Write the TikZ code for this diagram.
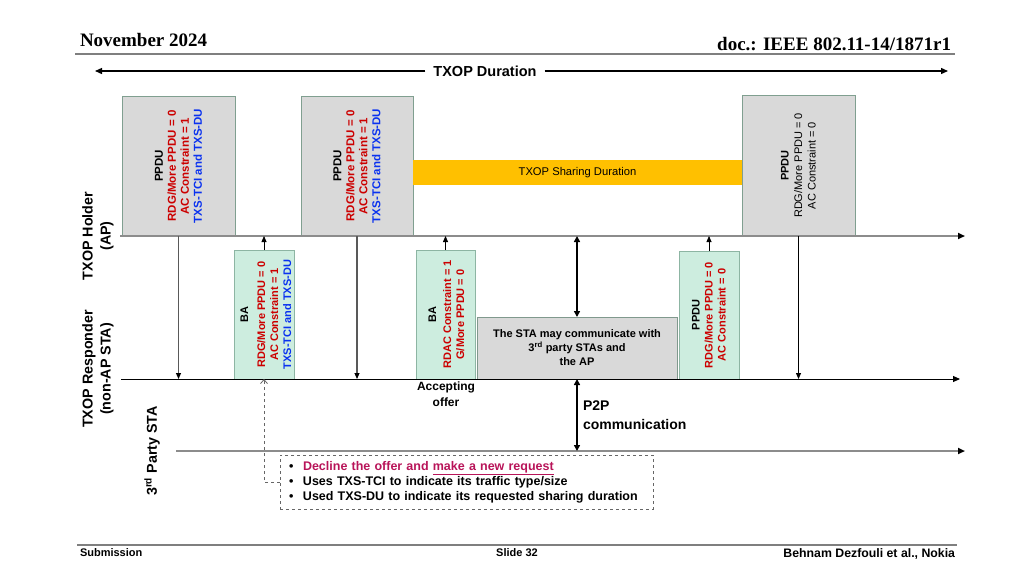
\documentclass[tikz,border=0pt]{standalone}
\usepackage{fontspec}
\setmainfont{Liberation Sans}
\newfontfamily\hdrserif{Liberation Serif}
\usetikzlibrary{arrows.meta}
\definecolor{boxgray}{HTML}{D9D9D9}
\definecolor{boxedge}{HTML}{809F90}
\definecolor{mint}{HTML}{CDEDDF}
\definecolor{mintedge}{HTML}{8DB5A3}
\definecolor{txred}{HTML}{CC0000}
\definecolor{txblue}{HTML}{0A32F0}
\definecolor{crimson}{HTML}{B81459}
\definecolor{gold}{HTML}{FFC000}
\definecolor{linegray}{HTML}{8C8C8C}
\definecolor{rulegray}{HTML}{7F7F7F}
\begin{document}
\begin{tikzpicture}[x=1pt,y=-1pt,
  every node/.style={inner sep=0pt, outer sep=0pt},
  graybox/.style={draw=boxedge, fill=boxgray, line width=0.8pt, anchor=north west},
  mintbox/.style={draw=mintedge, fill=mint, line width=0.8pt, anchor=north west},
  vtextA/.style={rotate=90, align=center, font=\fontsize{11.5}{13}\selectfont\bfseries},
  vtextB/.style={rotate=90, align=center, font=\fontsize{11}{13}\selectfont\bfseries},
  vtextC/.style={rotate=90, align=center, font=\fontsize{11}{13.5}\selectfont},
  lbl/.style={align=center, font=\fontsize{14.3}{18}\selectfont\bfseries},
  tipd/.style={-{Triangle[length=6pt,width=5pt,color=black]}},
  tline/.style={-{Triangle[length=7pt,width=6pt,color=black]}},
  dbl/.style={line width=1.6pt, {Triangle[length=6pt,width=6pt]}-{Triangle[length=6pt,width=6pt]}},
  rule/.style={draw=rulegray, line width=1.6pt},
  hdr/.style={font=\hdrserif\fontsize{19}{22}\selectfont\bfseries},
  ftr/.style={font=\fontsize{11}{13}\selectfont\bfseries}
]
\useasboundingbox (0,0) rectangle (1024,576);

% header
\node[hdr, anchor=base west] (hleft) at (80,46) {November 2024};
\node[hdr, anchor=base east] (hright) at (951,50) {doc.: IEEE 802.11-14/1871r1};
\coordinate (hdL) at (75,54);
\coordinate (hdR) at (955,54);
\draw[rule] (hdL) -- (hdR);

% TXOP duration
\node[font=\fontsize{14.5}{16}\selectfont\bfseries, inner xsep=8pt] (dur) at (485,71) {TXOP Duration};
\coordinate (durL) at (95,71);
\coordinate (durR) at (948,71);
\draw[line width=1.3pt, tline] (dur.west) -- (durL);
\draw[line width=1.3pt, tline] (dur.east) -- (durR);

% time lines
\coordinate (apL) at (120,236);
\coordinate (apR) at (965,236);
\coordinate (respL) at (121,379);
\coordinate (respR) at (960,379);
\coordinate (tpL) at (176,451);
\coordinate (tpR) at (965,451);

% AP boxes
\node[graybox, minimum width=113pt, minimum height=140pt] (p1) at (122,96) {};
\node[graybox, minimum width=112pt, minimum height=140pt] (p2) at (301,96) {};
\node[graybox, minimum width=113pt, minimum height=141pt] (p3) at (742,95) {};
\node[fill=gold, anchor=north west, minimum width=329pt, minimum height=25pt] (share) at (413,160) {};
\node[font=\fontsize{11.2}{13}\selectfont] (sharet) at (share.center) {TXOP Sharing Duration};

\node[vtextA] (p1t) at (p1.center) {PPDU\\\textcolor{txred}{RDG/More PPDU = 0}\\\textcolor{txred}{AC Constraint = 1}\\\textcolor{txblue}{TXS-TCI and TXS-DU}};
\node[vtextA] (p2t) at (p2.center) {PPDU\\\textcolor{txred}{RDG/More PPDU = 0}\\\textcolor{txred}{AC Constraint = 1}\\\textcolor{txblue}{TXS-TCI and TXS-DU}};
\node[vtextC] (p3t) at (p3.center) {\textbf{PPDU}\\RDG/More PPDU = 0\\AC Constraint = 0};

% responder boxes
\node[mintbox, minimum width=60pt, minimum height=129pt] (ba1) at (234,250) {};
\node[mintbox, minimum width=59pt, minimum height=129pt] (ba2) at (416,250) {};
\node[mintbox, minimum width=60pt, minimum height=128pt] (pp4) at (679,251) {};
\node[graybox, draw=boxedge!80!gray, minimum width=200pt, minimum height=62pt] (comm) at (477,317) {};

\node[vtextB] (ba1t) at ([xshift=2pt]ba1.center) {BA\\[4pt]\textcolor{txred}{RDG/More PPDU = 0}\\\textcolor{txred}{AC Constraint = 1}\\\textcolor{txblue}{TXS-TCI and TXS-DU}};
\node[vtextB] (ba2t) at ([xshift=1pt]ba2.center) {BA\\[2pt]\textcolor{txred}{RDAC Constraint = 1}\\\textcolor{txred}{G/More PPDU = 0}};
\node[vtextB] (pp4t) at (pp4.center) {PPDU\\\textcolor{txred}{RDG/More PPDU = 0}\\\textcolor{txred}{AC Constraint = 0}};
\node[align=center, font=\fontsize{11}{14}\selectfont\bfseries] (commt) at (comm.center) {The STA may communicate with\\3\textsuperscript{rd} party STAs and\\the AP};

% horizontal time lines
\draw[draw=linegray, line width=1.8pt, tline] (apL) -- (apR);
\draw[draw=black, line width=0.9pt, tline] (respL) -- (respR);
\draw[draw=linegray, line width=1.8pt, tline] (tpL) -- (tpR);

% vertical exchanges
\draw[draw=gray!70!black, line width=1.1pt, tipd] (p1.south) -- (p1.south |- respL);
\draw[line width=0.8pt, tipd] (ba1.north) -- (ba1.north |- apL);
\draw[draw=gray!70!black, line width=1.1pt, tipd] (p2.south) -- (p2.south |- respL);
\draw[line width=0.8pt, tipd] (ba2.north) -- (ba2.north |- apL);
\draw[dbl] (comm.north) -- (comm.north |- apL);
\draw[line width=0.8pt, tipd] (pp4.north) -- (pp4.north |- apL);
\draw[line width=0.8pt, tipd] (p3.south) -- (p3.south |- respL);
\draw[dbl] (comm.south) -- (comm.south |- tpL);

% labels
\node[lbl, rotate=90] (holder) at (98,236) {TXOP Holder\\(AP)};
\node[lbl, rotate=90] (responder) at (98,369) {TXOP Responder\\(non-AP STA)};
\node[lbl, rotate=90] (third) at (152,451) {3\textsuperscript{rd} Party STA};
\node[align=center, font=\fontsize{12}{15.5}\selectfont\bfseries] (acc) at (446,394) {Accepting\\offer};
\node[anchor=west, align=left, font=\fontsize{14}{19}\selectfont\bfseries] (p2p) at (583,415) {P2P\\communication};

% dashed box
\node[draw=gray!80!black, dashed, line width=0.8pt, anchor=north west, text width=355pt, inner xsep=9pt, minimum height=54pt, align=left, font=\fontsize{12.5}{15}\selectfont\bfseries] (dbox) at (280,455)
  {\makebox[14pt][l]{•}\textcolor{crimson}{Decline the offer and \underline{make a new request}}\\
   \makebox[14pt][l]{•}Uses TXS-TCI to indicate its traffic type/size\\
   \makebox[14pt][l]{•}Used TXS-DU to indicate its requested sharing duration};
\draw[draw=gray!80!black, dashed, line width=0.8pt, -{Straight Barb[length=4pt,width=7pt]}] (dbox.west) -| (ba1.south);

% footer
\coordinate (ftL) at (77,545);
\coordinate (ftR) at (957,545);
\draw[rule] (ftL) -- (ftR);
\node[ftr, anchor=base west] (fsub) at (80,556) {Submission};
\node[ftr, anchor=base] (fslide) at (517,556) {Slide 32};
\node[font=\fontsize{12.3}{14}\selectfont\bfseries, anchor=base east] (fauth) at (955,557) {Behnam Dezfouli et al., Nokia};
\end{tikzpicture}
\end{document}
